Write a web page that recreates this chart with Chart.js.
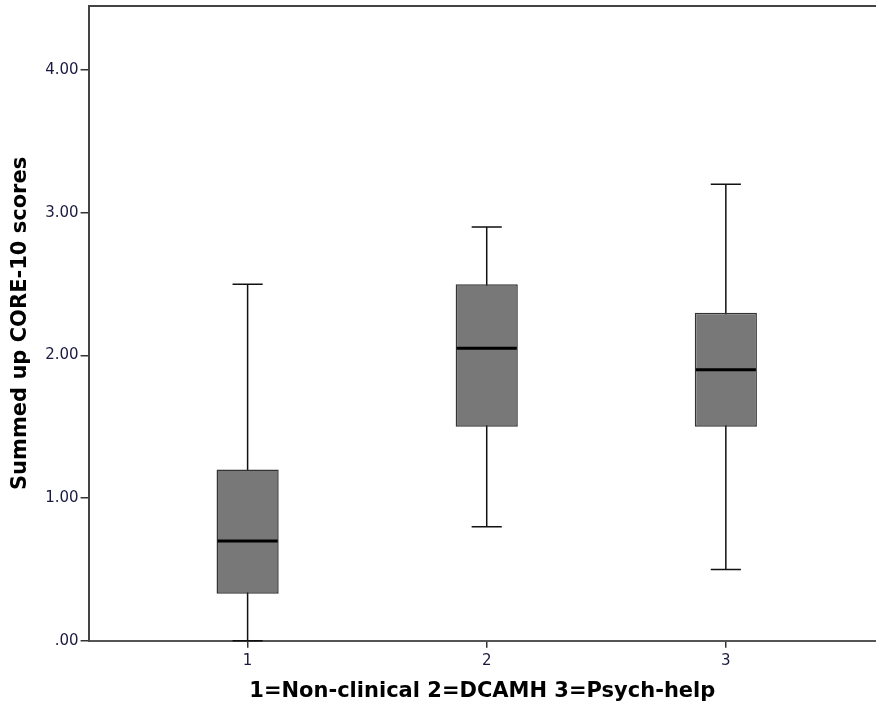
<!DOCTYPE html>
<html>
<head>
<meta charset="utf-8">
<script src="https://cdn.jsdelivr.net/npm/chart.js@4.4.1/dist/chart.umd.min.js"></script>
<style>
  body { margin: 0; background: #fff; }
  #wrap { width: 876px; height: 708px; }
</style>
</head>
<body>
<div id="wrap"><canvas id="boxChart"></canvas></div>
<script>
// Box plot values
const groups = [1, 2, 3];
const groupLabels = ["1", "2", "3"];
const whiskerLow = [0.0, 0.8, 0.5];
const q1 = [0.33, 1.5, 1.5];
const median = [0.7, 2.05, 1.9];
const q3 = [1.2, 2.5, 2.3];
const whiskerHigh = [2.5, 2.9, 3.2];

const yTicks = [0, 1, 2, 3, 4];
const yTickLabels = [".00", "1.00", "2.00", "3.00", "4.00"];

const BOX_HALF = 0.13;   // in x units
const CAP_HALF = 0.063;

// whiskers, caps, medians and top frame, drawn through the chart scales
const boxPlot = {
  id: "boxPlot",
  beforeDatasetsDraw(chart) {
    const { ctx, scales: { x, y } } = chart;
    ctx.save();
    ctx.strokeStyle = "#111";
    ctx.lineWidth = 1.5;
    groups.forEach((g, i) => {
      const cx = x.getPixelForValue(g);
      const c0 = x.getPixelForValue(g - CAP_HALF);
      const c1 = x.getPixelForValue(g + CAP_HALF);
      const lo = y.getPixelForValue(whiskerLow[i]);
      const hi = y.getPixelForValue(whiskerHigh[i]);
      ctx.beginPath();
      ctx.moveTo(cx, lo); ctx.lineTo(cx, hi);
      ctx.moveTo(c0, lo); ctx.lineTo(c1, lo);
      ctx.moveTo(c0, hi); ctx.lineTo(c1, hi);
      ctx.stroke();
    });
    ctx.restore();
  },
  afterDatasetsDraw(chart) {
    const { ctx, chartArea, scales: { x, y } } = chart;
    ctx.save();
    ctx.strokeStyle = "#000";
    ctx.lineWidth = 3;
    groups.forEach((g, i) => {
      const m = y.getPixelForValue(median[i]);
      ctx.beginPath();
      ctx.moveTo(x.getPixelForValue(g - BOX_HALF) + 1, m);
      ctx.lineTo(x.getPixelForValue(g + BOX_HALF) - 1, m);
      ctx.stroke();
    });
    ctx.strokeStyle = "#444";
    ctx.lineWidth = 2;
    ctx.beginPath();
    ctx.moveTo(chartArea.left, chartArea.top);
    ctx.lineTo(chartArea.right, chartArea.top);
    ctx.stroke();
    ctx.restore();
  }
};

const ctx = document.getElementById("boxChart").getContext("2d");
const chart = new Chart(ctx, {
  type: "bar",
  data: {
    datasets: [{
      data: groups.map((g, i) => ({ x: g, y: [q1[i], q3[i]] })),
      backgroundColor: "#787878",
      borderColor: "#333",
      borderWidth: 1.5,
      borderSkipped: false,
      barPercentage: BOX_HALF * 2,
      categoryPercentage: 1
    }]
  },
  options: {
    responsive: true,
    maintainAspectRatio: false,
    animation: false,
    layout: { padding: { top: 6, right: 0, left: 8, bottom: 4 } },
    plugins: { legend: { display: false }, tooltip: { enabled: false } },
    scales: {
      x: {
        type: "linear",
        offset: false,
        min: 0.335,
        max: 3.628,
        afterBuildTicks: (scale) => { scale.ticks = groups.map(v => ({ value: v })); },
        ticks: {
          callback: (v) => groupLabels[groups.indexOf(v)],
          color: "#1a1a40",
          font: { family: "DejaVu Sans", size: 15 },
          padding: 4,
          maxRotation: 0
        },
        grid: { offset: false, drawOnChartArea: false, drawTicks: true, tickLength: 7, color: "#333", lineWidth: 1.5 },
        border: { display: true, color: "#555", width: 2 },
        title: {
          display: true,
          text: "1=Non-clinical 2=DCAMH 3=Psych-help",
          color: "#000",
          font: { family: "DejaVu Sans", size: 21, weight: "bold" },
          padding: { top: 5, bottom: 0 }
        }
      },
      y: {
        min: 0,
        max: 4.45,
        afterBuildTicks: (scale) => { scale.ticks = yTicks.map(v => ({ value: v })); },
        afterFit: (scale) => { scale.paddingTop = 0; },
        ticks: {
          callback: (v) => yTickLabels[yTicks.indexOf(v)],
          color: "#1a1a40",
          font: { family: "DejaVu Sans", size: 15 },
          padding: 2
        },
        grid: { drawOnChartArea: false, drawTicks: true, tickLength: 8, color: "#333", lineWidth: 1.5 },
        border: { display: true, color: "#444", width: 2 },
        title: {
          display: true,
          text: "Summed up CORE-10 scores",
          color: "#000",
          font: { family: "DejaVu Sans", size: 21, weight: "bold" },
          padding: { top: 0, bottom: 10 }
        }
      }
    }
  },
  plugins: [boxPlot]
});
</script>
</body>
</html>
